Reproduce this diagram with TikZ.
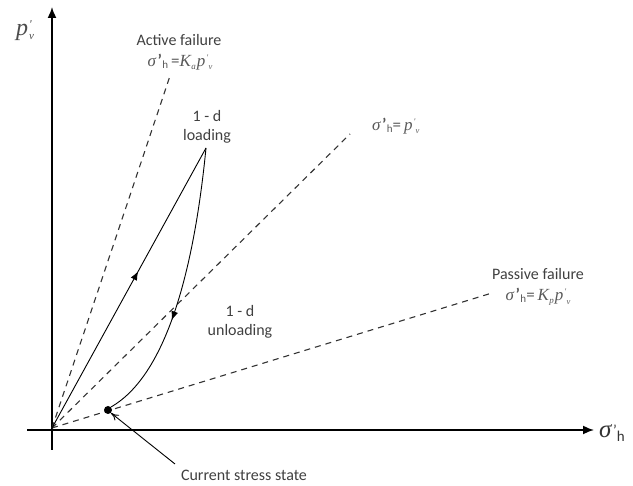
\documentclass[tikz,border=0pt]{standalone}
\usepackage{fontspec}
\setmainfont{Carlito}
\newfontfamily\tms{Liberation Serif}
\usetikzlibrary{arrows.meta,decorations.markings}
\newcommand\sgh{{\tms\itshape σ}\kern1.5pt{\bfseries '}\kern0.5pt\raisebox{-2pt}{\fontsize{11}{11}\selectfont h}}
\newcommand\pvv{{\tms\itshape p}\kern1pt\raisebox{6pt}{\fontsize{8.5}{8.5}\selectfont\tms\itshape '}\kern0.3pt\raisebox{-3.5pt}{\fontsize{8.5}{8.5}\selectfont\tms\itshape v}}
\newcommand\Ksub[1]{{\tms\itshape K}\kern0.5pt\raisebox{-3pt}{\fontsize{9}{9}\selectfont\tms\itshape #1}\kern1pt}
\tikzset{
  axis/.style={line width=1.6pt,-{Latex[length=11pt,width=9pt]}},
  failline/.style={line width=1.1pt,dash pattern=on 6pt off 5pt,black!80},
  path/.style={line width=0.9pt},
  lbl/.style={font=\fontsize{16}{19}\selectfont,text=black!75,align=center,inner sep=1pt},
  frm/.style={font=\fontsize{17}{19}\selectfont,text=black!65,inner sep=1pt},
}
\begin{document}
\begin{tikzpicture}[x=1pt,y=-1pt]
\path[use as bounding box] (0,0) rectangle (633,486);
\coordinate (O) at (52,428);
\coordinate (ybot) at (52,450);
\coordinate (ytop) at (52,7);
\coordinate (xl) at (27,430);
\coordinate (xr) at (594,430);
\draw[axis] (ybot) -- (ytop);
\draw[axis] (xl) -- (xr);
\node[font=\fontsize{24}{24}\selectfont,text=black!70] (pvlab) at (25,31) {{\tms\itshape p}\kern1pt\rlap{\raisebox{7pt}{\fontsize{12}{12}\selectfont\tms\itshape '}}\raisebox{-4pt}{\fontsize{11}{11}\selectfont\tms\itshape v}};
\node[font=\fontsize{25}{25}\selectfont,anchor=west,inner sep=0pt,text=black!80] (shlab) at (599,433) {{\tms\itshape σ}\kern1.5pt\raisebox{2pt}{\fontsize{15}{15}\selectfont '}\raisebox{-4pt}{\fontsize{15}{15}\selectfont h}};
% failure lines
\coordinate (Aend) at (170,76);
\coordinate (Nend) at (350,134);
\coordinate (Pend) at (492,293);
\draw[failline] (O) -- (Aend);
\draw[failline] (O) -- (Nend);
\draw[failline] (O) -- (Pend);
% labels
\node[lbl] (act) at (179,40) {Active failure};
\node[frm] (actf) at (180,62) {\sgh\,=\Ksub{a}\pvv};
\node[frm,anchor=west] (nf) at (371,126) {\sgh=\,\pvv};
\node[lbl] (pas) at (538,274) {Passive failure};
\node[frm] (pasf) at (538,297) {\sgh=\,\Ksub{p}\pvv};
\node[lbl] (ld) at (207,127) {1 - d\\loading};
\node[lbl] (uld) at (240,322) {1 - d\\unloading};
% loading / unloading
\coordinate (L) at (206,148);
\node[circle,fill=black,inner sep=0pt,minimum size=8pt] (D) at (108,410) {};
\draw[path,postaction={decorate},decoration={markings,mark=at position 0.56 with {\arrow{Latex[length=9pt,width=7pt]}}}] (O) -- (L);
\draw[path,postaction={decorate},decoration={markings,mark=at position 0.62 with {\arrow{Latex[length=9pt,width=7pt]}}}] (L) .. controls (196,250) and (172,372) .. (D.north east);
% current stress state
\node[lbl] (cur) at (244,475) {Current stress state};
\draw[line width=0.9pt,-{To[length=8pt,width=7pt]}] (175,464) -- (D.south east);
\end{tikzpicture}
\end{document}
